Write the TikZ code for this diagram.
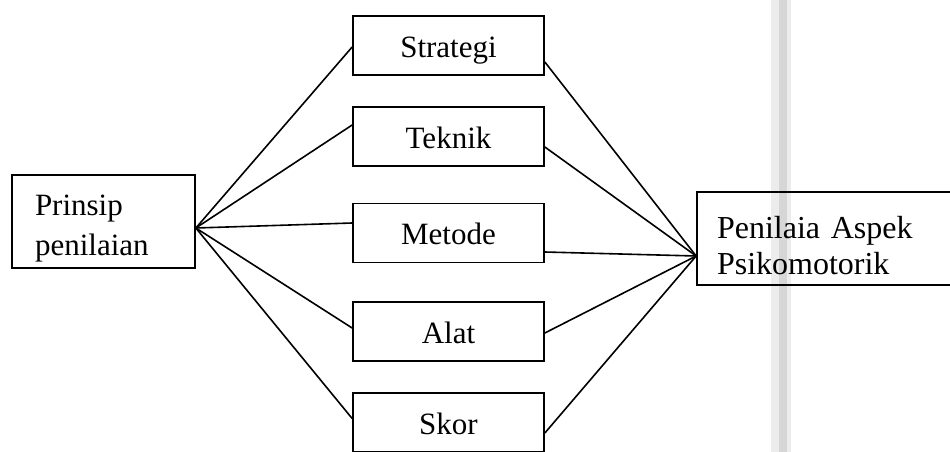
\documentclass[tikz,border=0pt]{standalone}
\usepackage{fontspec}
\setmainfont{Liberation Serif}
\usetikzlibrary{calc}
\begin{document}
\begin{tikzpicture}[x=1pt,y=-1pt,
  box/.style={draw,line width=1.7pt,minimum width=191pt,minimum height=59pt,inner sep=0pt,text height=30pt,text depth=7pt,font=\fontsize{31}{37}\selectfont},
  bigbox/.style={draw,line width=1.7pt,inner sep=0pt},
  label/.style={inner sep=0pt,align=left},
  conn/.style={line width=1.6pt}]
\useasboundingbox (0,0) rectangle (950,452);
% scan fold band
\fill[gray!15] (771,0) rectangle (791,452);
\fill[gray!32] (779,0) rectangle (787,452);
% nodes
\node[bigbox,minimum width=183pt,minimum height=93pt] (p) at (103.5,221.5) {};
\node[label,text width=137pt,font=\fontsize{31}{40}\selectfont] (pt) at ($(p.center)+(0,7)$) {Prinsip\\penilaian};
\node[box] (s1) at (448.5,45.5) {Strategi};
\node[box] (s2) at (448.5,136.5) {Teknik};
\node[box] (s3) at (448.5,233) {Metode};
\node[box] (s4) at (448.5,331.5) {Alat};
\node[box] (s5) at (448.5,422.5) {Skor};
\node[bigbox,minimum width=268pt,minimum height=93pt] (r) at (831,238.5) {};
\node[label,text width=228pt,font=\fontsize{32}{36}\selectfont] (rt) at ($(r.center)+(0,7)$) {Penilaia Aspek\\Psikomotorik};
% convergence points
\coordinate (L) at ($(p.east)+(0,6.5)$);
\coordinate (R) at ($(r.west)+(0,17.5)$);
% left connectors
\draw[conn] (L) -- ($(s1.west)+(0,1.5)$);
\draw[conn] (L) -- ($(s2.west)+(0,-11.5)$);
\draw[conn] (L) -- ($(s3.west)+(0,-10)$);
\draw[conn] (L) -- ($(s4.west)+(0,-3.5)$);
\draw[conn] (L) -- ($(s5.west)+(0,-4)$);
% right connectors
\draw[conn] ($(s1.east)+(0,16.5)$) -- (R);
\draw[conn] ($(s2.east)+(0,10.5)$) -- (R);
\draw[conn] ($(s3.east)+(0,19)$) -- (R);
\draw[conn] ($(s4.east)+(0,1.5)$) -- (R);
\draw[conn] ($(s5.east)+(0,10.5)$) -- (R);
\end{tikzpicture}
\end{document}
